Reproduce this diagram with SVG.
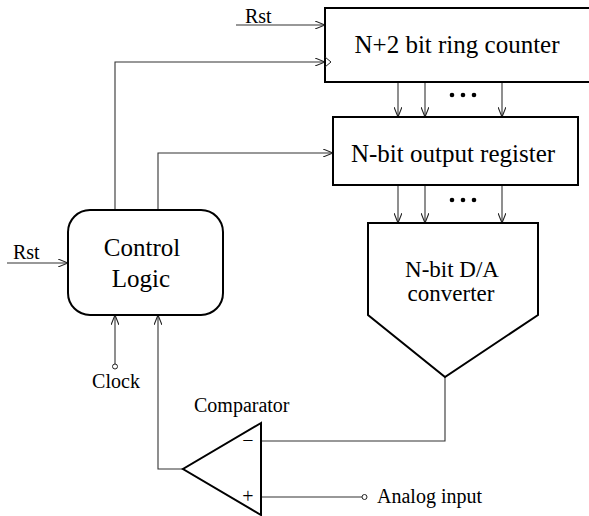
<svg xmlns="http://www.w3.org/2000/svg" width="589" height="516" viewBox="0 0 589 516">
<defs>
<style>
.box{fill:#fff;stroke:#000;stroke-width:2}
.wire{fill:none;stroke:#333;stroke-width:1.1}
.lbl{font-family:"Liberation Serif","Times New Roman",serif;font-size:25px;fill:#000}
.sm{font-family:"Liberation Serif","Times New Roman",serif;font-size:20px;fill:#000}
.dot{fill:#000}
</style>
<marker id="arr" viewBox="0 0 10 8" refX="10" refY="4" markerWidth="10" markerHeight="8" markerUnits="userSpaceOnUse" orient="auto">
<path d="M0,0 L10,4 L0,8" fill="none" stroke="#222" stroke-width="1.1"/>
</marker>
</defs>
<rect width="589" height="516" fill="#fff"/>
<g id="connectors">
<path class="wire" d="M236,25 H325" marker-end="url(#arr)"/>
<path class="wire" d="M115,210 V62 H325" marker-end="url(#arr)"/>
<path class="wire" d="M158,210 V153 H333" marker-end="url(#arr)"/>
<path class="wire" d="M398,82 V117" marker-end="url(#arr)"/>
<path class="wire" d="M425,82 V117" marker-end="url(#arr)"/>
<path class="wire" d="M502,82 V117" marker-end="url(#arr)"/>
<path class="wire" d="M398,185 V223" marker-end="url(#arr)"/>
<path class="wire" d="M425,185 V223" marker-end="url(#arr)"/>
<path class="wire" d="M502,185 V223" marker-end="url(#arr)"/>
<path class="wire" d="M7,263 H68" marker-end="url(#arr)"/>
<path class="wire" d="M115,364 V315" marker-end="url(#arr)"/>
<circle cx="115" cy="366.5" r="2.5" fill="#fff" stroke="#222" stroke-width="1"/>
<path class="wire" d="M183,469 H158 V315" marker-end="url(#arr)"/>
<path class="wire" d="M445,377 V441 H261"/>
<path class="wire" d="M261,497 H362"/>
<circle cx="364.5" cy="497" r="2.5" fill="#fff" stroke="#222" stroke-width="1"/>
<circle class="dot" cx="452" cy="95" r="2.3"/>
<circle class="dot" cx="463" cy="95" r="2.3"/>
<circle class="dot" cx="474" cy="95" r="2.3"/>
<circle class="dot" cx="452" cy="200" r="2.3"/>
<circle class="dot" cx="463" cy="200" r="2.3"/>
<circle class="dot" cx="474" cy="200" r="2.3"/>
</g>
<g id="labels">
<text class="sm" x="245" y="23">Rst</text>
<text class="sm" x="13" y="259">Rst</text>
<text class="sm" x="116" y="388" text-anchor="middle">Clock</text>
<text class="sm" x="194" y="412">Comparator</text>
<text class="sm" x="377" y="503">Analog input</text>
</g>
<g id="ring-counter">
<rect class="box" x="325" y="8" width="270" height="74"/>
<path d="M325,57 L331,62 L325,67" fill="none" stroke="#222" stroke-width="1"/>
<text class="lbl" x="457" y="53" text-anchor="middle">N+2 bit ring counter</text>
</g>
<g id="output-register">
<rect class="box" x="333" y="117" width="245" height="68"/>
<text class="lbl" x="453" y="162" text-anchor="middle">N-bit output register</text>
</g>
<g id="da-converter">
<path class="box" d="M368,223 H538 V315 L445,377 L368,315 Z"/>
<text class="lbl" x="452" y="277" text-anchor="middle" style="font-size:23px">N-bit D/A</text>
<text class="lbl" x="451" y="301" text-anchor="middle" style="font-size:23px">converter</text>
</g>
<g id="control-logic">
<rect class="box" x="68" y="210" width="155" height="105" rx="22"/>
<text class="lbl" x="142" y="256" text-anchor="middle">Control</text>
<text class="lbl" x="141" y="287" text-anchor="middle">Logic</text>
</g>
<g id="comparator">
<path class="box" d="M261,423 L183,469 L261,515 Z"/>
<text class="sm" x="248" y="447" text-anchor="middle">−</text>
<text class="sm" x="248" y="503" text-anchor="middle">+</text>
</g>
</svg>
